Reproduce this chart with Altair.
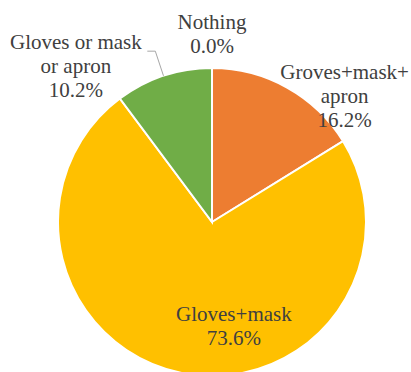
import altair as alt
import pandas as pd

# Data
categories = ["Nothing", "Groves+mask+apron", "Gloves+mask", "Gloves or mask or apron"]
label_names = ["Nothing", "Groves+mask+\napron", "Gloves+mask", "Gloves or mask\nor apron"]
values = [0.0, 16.2, 73.6, 10.2]
colors = ["#A5A5A5", "#ED7D31", "#FFC000", "#70AD47"]

# Layout (label placement relative to slice mid-angle)
label_dtheta_deg = [0.0, 17.6, -22.6, -23.0]
label_radius = [187, 182, 107, 206]

CX, CY, R = 212, 222, 154
LINE_H = 24

df = pd.DataFrame({
    "cat": categories,
    "name": label_names,
    "val": values,
    "idx": list(range(len(categories))),
    "dth": label_dtheta_deg,
    "lr": label_radius,
})

base = alt.Chart(df)

pie = base.mark_arc(outerRadius=R, stroke="white", strokeWidth=2).encode(
    theta=alt.Theta("val:Q", stack=True),
    color=alt.Color("cat:N", scale=alt.Scale(domain=categories, range=colors), legend=None),
    order=alt.Order("idx:Q"),
    x=alt.value(CX),
    y=alt.value(CY),
)

geo = base.transform_window(
    cum="sum(val)", sort=[alt.SortField("idx")], frame=[None, 0]
).transform_joinaggregate(
    total="sum(val)"
).transform_calculate(
    mid="2*PI*(datum.cum - datum.val/2)/datum.total"
)

labels = geo.transform_calculate(
    ang="datum.mid + datum.dth*PI/180",
    txt="datum.name + '\\n' + format(datum.val, '.1f') + '%'",
).transform_calculate(
    nl="length(split(datum.txt, '\\n'))",
    tx=f"{CX} + datum.lr*sin(datum.ang)",
).transform_calculate(
    ty=f"{CY} - datum.lr*cos(datum.ang) - (datum.nl - 1)*{LINE_H}/2",
).mark_text(
    font="Liberation Serif", fontSize=21, color="#404040",
    lineBreak="\n", lineHeight=LINE_H, align="center", baseline="middle",
).encode(
    x=alt.X("tx:Q", scale=None),
    y=alt.Y("ty:Q", scale=None),
    text="txt:N",
)

leader_pts = geo.transform_filter(
    alt.datum.cat == "Gloves or mask or apron"
).transform_calculate(
    x1=f"{CX} + {R}*sin(datum.mid)",
    y1=f"{CY} - {R}*cos(datum.mid)",
    x2=f"{CX} + 180*sin(datum.mid)",
    y2=f"{CY} - 180*cos(datum.mid)",
    x3=f"{CX} + 180*sin(datum.mid) - 8",
)

leader1 = leader_pts.mark_rule(color="#A6A6A6", strokeWidth=1).encode(
    x=alt.X("x1:Q", scale=None), y=alt.Y("y1:Q", scale=None),
    x2="x2:Q", y2="y2:Q",
)
leader2 = leader_pts.mark_rule(color="#A6A6A6", strokeWidth=1).encode(
    x=alt.X("x2:Q", scale=None), y=alt.Y("y2:Q", scale=None),
    x2="x3:Q", y2="y2:Q",
)

chart = alt.layer(pie, leader1, leader2, labels).properties(
    width=411, height=372,
    autosize=alt.AutoSizeParams(type="none"),
    padding=0,
).configure_view(stroke=None)

chart.save("out.html", embed_options={"renderer": "svg", "actions": False})
